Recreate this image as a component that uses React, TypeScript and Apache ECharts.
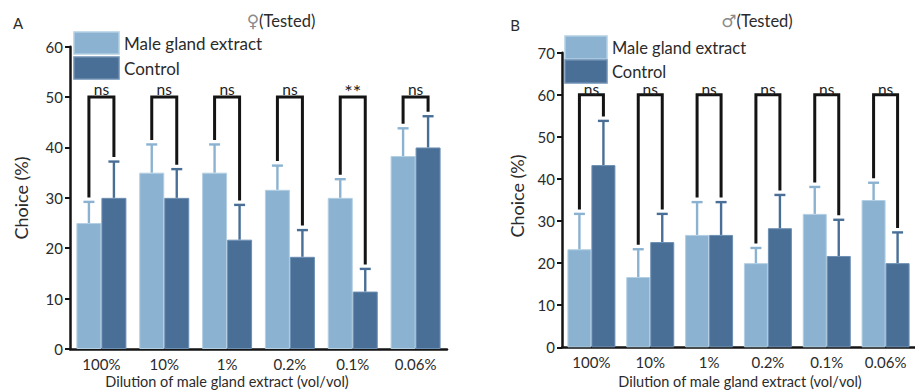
import React, { useEffect, useRef } from "react";
import * as echarts from "echarts";

const categories = ["100%", "10%", "1%", "0.2%", "0.1%", "0.06%"];
const seriesNames = ["Male gland extract", "Control"];

// Panel A: female tested
const femaleExtract = [25, 35, 35, 31.6, 30, 38.3];
const femaleExtractErr = [29.2, 40.6, 40.6, 36.4, 33.7, 43.8];
const femaleControl = [30, 30, 21.7, 18.3, 11.4, 40];
const femaleControlErr = [37.2, 35.7, 28.6, 23.6, 15.9, 46.2];
const femaleSig = ["ns", "ns", "ns", "ns", "**", "ns"];
const femaleBracketTop = 50;

// Panel B: male tested
const maleExtract = [23.3, 16.7, 26.7, 20, 31.7, 35];
const maleExtractErr = [31.7, 23.3, 34.5, 23.6, 38.1, 39.1];
const maleControl = [43.3, 25, 26.7, 28.3, 21.7, 20];
const maleControlErr = [53.8, 31.7, 34.5, 36.2, 30.3, 27.3];
const maleSig = ["ns", "ns", "ns", "ns", "ns", "ns"];
const maleBracketTop = 60;

const LIGHT = "#8bb3d1";
const DARK = "#4a6f97";
const LIGHT_BORDER = "#b3cfe3";
const DARK_BORDER = "#6d8fb3";
const AXIS = "#141414";
const TEXT = "#2b2b2b";
const FONT = "Lato";

export default function App() {
  const ref = useRef<HTMLDivElement>(null);

  useEffect(() => {
    if (!ref.current) return;
    const chart = echarts.init(ref.current, null, { renderer: "svg" });

    const barWA = 25;
    const barWB = 24;

    const errSeries = (
      name: string,
      values: number[],
      errs: number[],
      side: number,
      color: string,
      idx: number,
      barW: number
    ) => ({
      type: "custom",
      name,
      xAxisIndex: idx,
      yAxisIndex: idx,
      z: 3,
      silent: true,
      data: values.map((v, i) => [i, v, errs[i]]),
      renderItem: (params: any, api: any) => {
        const cat = api.value(0);
        const v = api.value(1);
        const e = api.value(2);
        const p0 = api.coord([cat, v]);
        const p1 = api.coord([cat, e]);
        const x = p0[0] + (side * barW) / 2;
        const style = { stroke: color, lineWidth: 2.4 };
        return {
          type: "group",
          children: [
            { type: "line", shape: { x1: x, y1: p0[1], x2: x, y2: p1[1] }, style },
            { type: "line", shape: { x1: x - 5.5, y1: p1[1], x2: x + 5.5, y2: p1[1] }, style },
          ],
        };
      },
    });

    const bracketSeries = (
      top: number,
      errL: number[],
      errR: number[],
      labels: string[],
      idx: number,
      barW: number,
      labelShift: number
    ) => ({
      type: "custom",
      xAxisIndex: idx,
      yAxisIndex: idx,
      z: 4,
      silent: true,
      data: errL.map((e, i) => [i, top, e, errR[i]]),
      renderItem: (params: any, api: any) => {
        const cat = api.value(0);
        const t = api.coord([cat, api.value(1)]);
        const l = api.coord([cat, api.value(2)]);
        const r = api.coord([cat, api.value(3)]);
        const xl = t[0] - barW / 2;
        const xr = t[0] + barW / 2;
        const label = labels[params.dataIndex];
        const star = label === "**";
        return {
          type: "group",
          children: [
            {
              type: "polyline",
              shape: {
                points: [
                  [xl, l[1] - 4.5],
                  [xl, t[1]],
                  [xr, t[1]],
                  [xr, r[1] - 4.5],
                ],
              },
              style: { stroke: AXIS, lineWidth: 3, fill: null },
            },
            {
              type: "text",
              x: t[0],
              y: t[1] + (star ? 4 : labelShift),
              style: {
                text: label,
                align: "center",
                verticalAlign: "bottom",
                fontSize: star ? 20 : 15.5,
                fontFamily: FONT,
                fill: "#222222",
              },
            },
          ],
        };
      },
    });

    const xAxis = (idx: number) => ({
      type: "category",
      gridIndex: idx,
      data: categories,
      axisLine: { lineStyle: { color: AXIS, width: 2.5 } },
      axisTick: {
        alignWithLabel: true,
        inside: true,
        length: 5,
        lineStyle: { color: AXIS, width: 2 },
      },
      axisLabel: { color: TEXT, fontSize: 15, fontFamily: FONT, margin: 7 },
    });

    const yAxis = (idx: number, max: number) => ({
      type: "value",
      gridIndex: idx,
      min: 0,
      max,
      interval: 10,
      splitLine: { show: false },
      axisLine: { show: true, lineStyle: { color: AXIS, width: 2.5 } },
      axisTick: { show: true, length: 5, lineStyle: { color: AXIS, width: 2 } },
      axisLabel: { color: TEXT, fontSize: 15, fontFamily: FONT, margin: 7 },
    });

    const legendGraphic = (
      left: number,
      top: number,
      w: number,
      h: number,
      gap: number,
      fontSize: number
    ) => {
      const colors = [LIGHT, DARK];
      const borders = [LIGHT_BORDER, DARK_BORDER];
      const items: any[] = [];
      seriesNames.forEach((name, i) => {
        const y = top + i * (h + gap);
        items.push({
          type: "rect",
          shape: { x: left, y, width: w, height: h },
          style: { fill: colors[i], stroke: borders[i], lineWidth: 1.5 },
        });
        items.push({
          type: "text",
          x: left + w + 5,
          y: y + h / 2,
          style: {
            text: name,
            align: "left",
            verticalAlign: "middle",
            fontSize,
            fontFamily: FONT,
            fill: TEXT,
          },
        });
      });
      return items;
    };

    const titleText = (x: number, y: number, sym: string) => ({
      type: "text",
      x,
      y,
      style: {
        text: `{s|${sym}}{t|(Tested)}`,
        align: "center",
        verticalAlign: "middle",
        rich: {
          s: { fontSize: 17, fill: "#8a8a8a", fontFamily: "DejaVu Sans" },
          t: { fontSize: 16.5, fill: TEXT, fontFamily: FONT },
        },
      },
    });

    const plainText = (x: number, y: number, text: string, size: number, rotation = 0) => ({
      type: "text",
      x,
      y,
      rotation,
      style: {
        text,
        align: "center",
        verticalAlign: "middle",
        fontSize: size,
        fontFamily: FONT,
        fill: TEXT,
      },
    });

    chart.setOption({
      animation: false,
      grid: [
        { left: 70, top: 46.7, width: 377, height: 302.3, containLabel: false },
        { left: 562, top: 52.7, width: 357, height: 294.6, containLabel: false },
      ],
      xAxis: [xAxis(0), xAxis(1)],
      yAxis: [yAxis(0, 60), yAxis(1, 70)],
      graphic: [
        plainText(18, 23, "A", 15),
        plainText(515, 25, "B", 15),
        titleText(281, 21, "♀"),
        titleText(757, 21, "♂"),
        plainText(21, 198, "Choice (%)", 18, Math.PI / 2),
        plainText(517, 196, "Choice (%)", 18, Math.PI / 2),
        plainText(227, 381, "Dilution of male gland extract (vol/vol)", 14.5),
        plainText(740, 381, "Dilution of male gland extract (vol/vol)", 14.5),
        ...legendGraphic(74, 32, 45, 22, 3, 17),
        ...legendGraphic(565, 36, 42, 23, 1, 16.5),
      ],
      series: [
        {
          type: "bar",
          name: seriesNames[0],
          xAxisIndex: 0,
          yAxisIndex: 0,
          data: femaleExtract,
          barWidth: barWA,
          barGap: "0%",
          itemStyle: { color: LIGHT, borderColor: LIGHT_BORDER, borderWidth: 1 },
        },
        {
          type: "bar",
          name: seriesNames[1],
          xAxisIndex: 0,
          yAxisIndex: 0,
          data: femaleControl,
          barWidth: barWA,
          barGap: "0%",
          itemStyle: { color: DARK, borderColor: DARK_BORDER, borderWidth: 1 },
        },
        {
          type: "bar",
          name: seriesNames[0],
          xAxisIndex: 1,
          yAxisIndex: 1,
          data: maleExtract,
          barWidth: barWB,
          barGap: "0%",
          itemStyle: { color: LIGHT, borderColor: LIGHT_BORDER, borderWidth: 1 },
        },
        {
          type: "bar",
          name: seriesNames[1],
          xAxisIndex: 1,
          yAxisIndex: 1,
          data: maleControl,
          barWidth: barWB,
          barGap: "0%",
          itemStyle: { color: DARK, borderColor: DARK_BORDER, borderWidth: 1 },
        },
        errSeries("errA1", femaleExtract, femaleExtractErr, -1, LIGHT, 0, barWA),
        errSeries("errA2", femaleControl, femaleControlErr, 1, DARK, 0, barWA),
        errSeries("errB1", maleExtract, maleExtractErr, -1, LIGHT, 1, barWB),
        errSeries("errB2", maleControl, maleControlErr, 1, DARK, 1, barWB),
        bracketSeries(femaleBracketTop, femaleExtractErr, femaleControlErr, femaleSig, 0, barWA, 0),
        bracketSeries(maleBracketTop, maleExtractErr, maleControlErr, maleSig, 1, barWB, 2),
      ],
    });

    return () => chart.dispose();
  }, []);

  return <div ref={ref} style={{ width: 915, height: 390, position: "absolute", left: 0, top: 0 }} />;
}
